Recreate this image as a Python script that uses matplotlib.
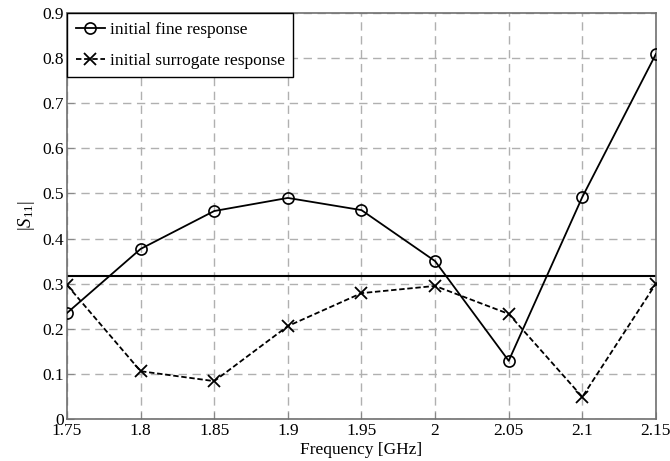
import matplotlib
matplotlib.use("Agg")
import matplotlib.pyplot as plt

freq = [1.75, 1.8, 1.85, 1.9, 1.95, 2.0, 2.05, 2.1, 2.15]
fine = [0.235, 0.377, 0.461, 0.490, 0.463, 0.350, 0.129, 0.492, 0.809]
surrogate = [0.297, 0.106, 0.084, 0.206, 0.279, 0.295, 0.233, 0.049, 0.300]
spec_level = 0.316
xticks = [1.75, 1.8, 1.85, 1.9, 1.95, 2.0, 2.05, 2.1, 2.15]
xticklabels = ["1.75", "1.8", "1.85", "1.9", "1.95", "2", "2.05", "2.1", "2.15"]
yticks = [0, 0.1, 0.2, 0.3, 0.4, 0.5, 0.6, 0.7, 0.8, 0.9]
yticklabels = ["0", "0.1", "0.2", "0.3", "0.4", "0.5", "0.6", "0.7", "0.8", "0.9"]

plt.rcParams['font.family'] = ['Liberation Serif', 'DejaVu Serif']
plt.rcParams['mathtext.fontset'] = 'custom'
plt.rcParams['mathtext.rm'] = 'Liberation Serif'
plt.rcParams['mathtext.it'] = 'Liberation Serif:italic'

FS = 12.5

fig = plt.figure(figsize=(6.7, 4.61), dpi=100)
ax = fig.add_axes([0.1, 0.091, 0.879, 0.881])

ax.plot(freq, fine, '-', color='black', lw=1.3, marker='o', ms=8,
        mfc='none', mec='black', mew=1.2, label='initial fine response', zorder=3)
ax.plot(freq, surrogate, '--', color='black', lw=1.3, marker='x', ms=9,
        mew=1.3, label='initial surrogate response', dashes=(3, 1.5), zorder=3)
ax.axhline(spec_level, color='black', lw=1.5, zorder=2)

ax.set_xlim(1.75, 2.15)
ax.set_ylim(0, 0.9)
ax.set_xticks(xticks)
ax.set_xticklabels(xticklabels)
ax.set_yticks(yticks)
ax.set_yticklabels(yticklabels)
ax.tick_params(direction='in', labelsize=FS, length=5, color='#888888', pad=3)
ax.tick_params(axis='y', pad=2)
ax.grid(True, color='#b0b0b0', ls=(0, (6, 4)), lw=1.0)
for s in ax.spines.values():
    s.set_color('#707070')
    s.set_linewidth(1.2)

ax.set_xlabel('Frequency [GHz]', fontsize=FS, labelpad=2)
ax.set_ylabel(r'$|S_{11}|$', fontsize=FS + 1, labelpad=4)

leg = ax.legend(loc='upper left', fontsize=FS, frameon=True, fancybox=False,
                edgecolor='black', framealpha=1, borderaxespad=0.0,
                handlelength=1.7, handletextpad=0.25, borderpad=0.5,
                labelspacing=0.85)
leg.get_frame().set_linewidth(1.0)

fig.savefig('out.png', dpi=100)
